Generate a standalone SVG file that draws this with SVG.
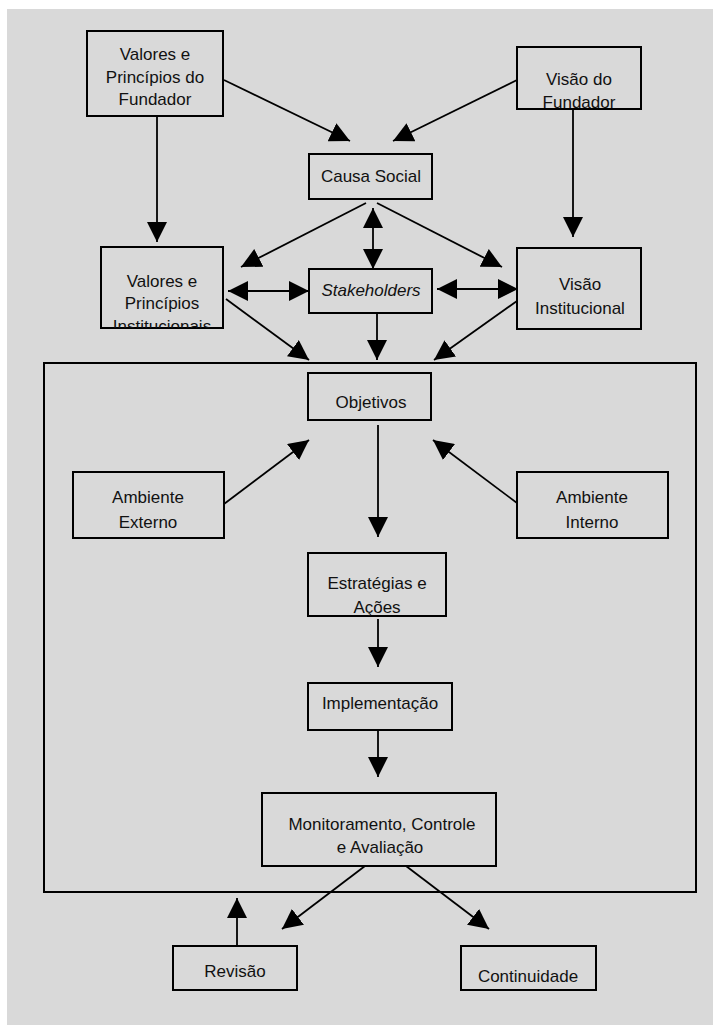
<svg xmlns="http://www.w3.org/2000/svg" width="713" height="1025" viewBox="0 0 713 1025">
<style>
.box{fill:none;stroke:#000;stroke-width:2}
.t{font-family:"Liberation Sans",Arial,sans-serif;font-size:17px;fill:#111;text-anchor:middle}
.it{font-style:italic}
.c line{stroke:#000;stroke-width:1.8;fill:none;marker-end:url(#ah)}
.c line.d{marker-start:url(#ah)}
</style>
<defs>
<marker id="ah" markerUnits="userSpaceOnUse" markerWidth="20" markerHeight="20" refX="20" refY="10" orient="auto-start-reverse" viewBox="0 0 20 20">
<path d="M0,0 L20,10 L0,20 Z" fill="#000"/>
</marker>
<clipPath id="clipVPI"><rect x="101" y="247" width="122" height="81"/></clipPath>
<clipPath id="clipVDF"><rect x="517" y="47" width="124" height="62"/></clipPath>
<clipPath id="clipEA"><rect x="308" y="553" width="138" height="63"/></clipPath>
</defs>
<rect x="0" y="0" width="713" height="1025" fill="#fff"/>
<rect x="7" y="9" width="706" height="1016" fill="#d9d9d9"/>

<g id="container">
<rect class="box" x="44" y="363" width="652" height="529"/>
</g>

<g id="vpf">
<rect class="box" x="87" y="31" width="136" height="85"/>
<text class="t" x="155" y="60">Valores e</text>
<text class="t" x="155" y="83">Princípios do</text>
<text class="t" x="155" y="105">Fundador</text>
</g>

<g id="vdf">
<rect class="box" x="517" y="47" width="124" height="62"/>
<g clip-path="url(#clipVDF)">
<text class="t" x="579" y="85">Visão do</text>
<text class="t" x="579" y="108">Fundador</text>
</g>
</g>

<g id="causa">
<rect class="box" x="309" y="154" width="123" height="45"/>
<text class="t" x="371" y="182">Causa Social</text>
</g>

<g id="vpi">
<rect class="box" x="101" y="247" width="122" height="81"/>
<g clip-path="url(#clipVPI)">
<text class="t" x="162" y="287">Valores e</text>
<text class="t" x="162" y="309">Princípios</text>
<text class="t" x="162" y="332">Institucionais</text>
</g>
</g>

<g id="stakeholders">
<rect class="box" x="309" y="269" width="123" height="44"/>
<text class="t it" x="371" y="296">Stakeholders</text>
</g>

<g id="vi">
<rect class="box" x="517" y="248" width="124" height="81"/>
<text class="t" x="580" y="290">Visão</text>
<text class="t" x="580" y="314">Institucional</text>
</g>

<g id="objetivos">
<rect class="box" x="308" y="373" width="123" height="47"/>
<text class="t" x="371" y="408">Objetivos</text>
</g>

<g id="amb-ext">
<rect class="box" x="73" y="472" width="151" height="66"/>
<text class="t" x="148" y="503">Ambiente</text>
<text class="t" x="148" y="528">Externo</text>
</g>

<g id="amb-int">
<rect class="box" x="517" y="472" width="151" height="66"/>
<text class="t" x="592" y="503">Ambiente</text>
<text class="t" x="592" y="528">Interno</text>
</g>

<g id="estrategias">
<rect class="box" x="308" y="553" width="138" height="63"/>
<g clip-path="url(#clipEA)">
<text class="t" x="377" y="589">Estratégias e</text>
<text class="t" x="377" y="613">Ações</text>
</g>
</g>

<g id="implementacao">
<rect class="box" x="308" y="683" width="144" height="47"/>
<text class="t" x="380" y="709">Implementação</text>
</g>

<g id="monitoramento">
<rect class="box" x="262" y="793" width="234" height="73"/>
<text class="t" x="382" y="830">Monitoramento, Controle</text>
<text class="t" x="380" y="853">e Avaliação</text>
</g>

<g id="revisao">
<rect class="box" x="173" y="946" width="124" height="44"/>
<text class="t" x="235" y="977">Revisão</text>
</g>

<g id="continuidade">
<rect class="box" x="461" y="946" width="135" height="44"/>
<text class="t" x="528" y="982">Continuidade</text>
</g>

<g id="connectors" class="c">
<line x1="224" y1="80" x2="350" y2="141"/>
<line x1="517" y1="80" x2="393" y2="141"/>
<line x1="157" y1="116" x2="157" y2="242"/>
<line x1="573" y1="109" x2="573" y2="237"/>
<line x1="366" y1="203" x2="241" y2="267"/>
<line x1="377" y1="203" x2="502" y2="267"/>
<line class="d" x1="373" y1="208" x2="373" y2="269"/>
<line class="d" x1="228" y1="291" x2="309" y2="291"/>
<line class="d" x1="437" y1="289" x2="518" y2="289"/>
<line x1="226" y1="299" x2="309" y2="360"/>
<line x1="377" y1="313" x2="377" y2="360"/>
<line x1="517" y1="301" x2="434" y2="360"/>
<line x1="378" y1="425" x2="378" y2="537"/>
<line x1="224" y1="504" x2="309" y2="440"/>
<line x1="517" y1="503" x2="433" y2="440"/>
<line x1="378" y1="619" x2="378" y2="667"/>
<line x1="378" y1="730" x2="378" y2="777"/>
<line x1="365" y1="866" x2="282" y2="929"/>
<line x1="406" y1="866" x2="489" y2="929"/>
<line x1="237" y1="946" x2="237" y2="898"/>
</g>
</svg>
